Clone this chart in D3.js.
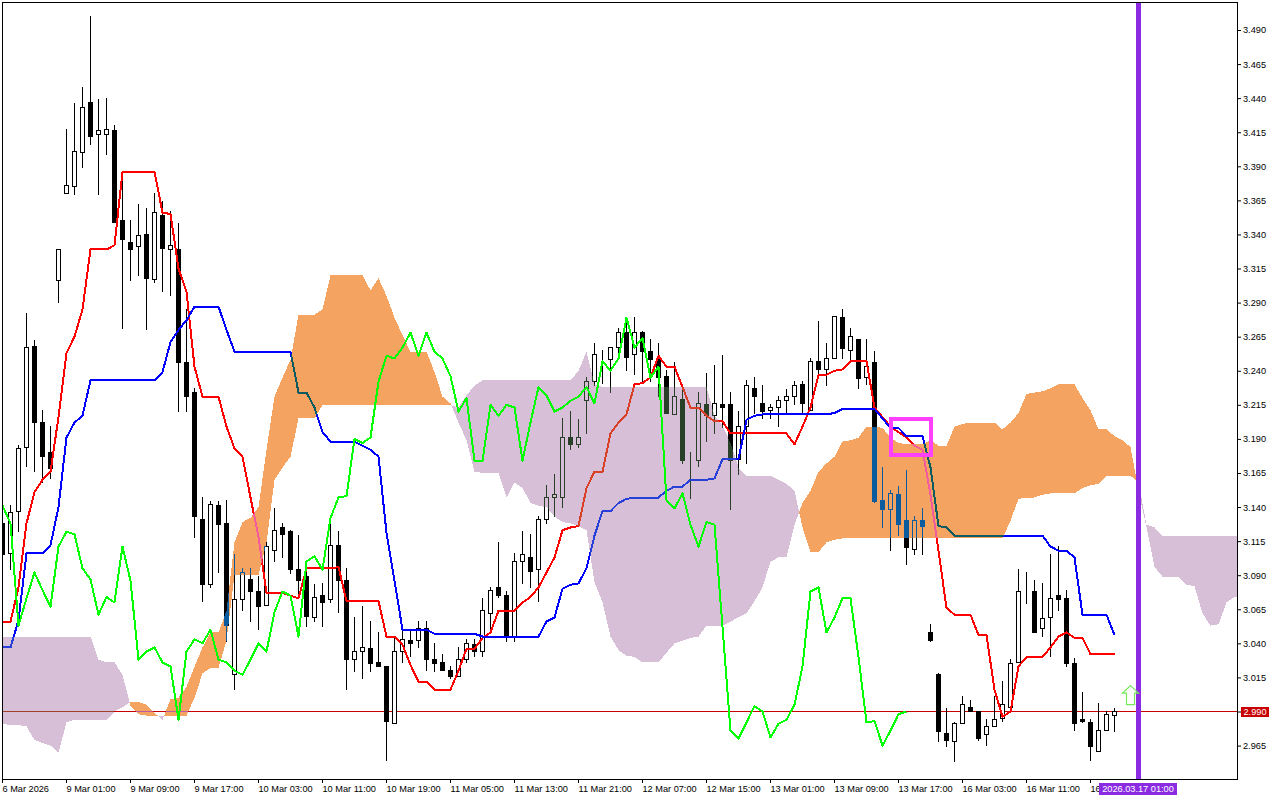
<!DOCTYPE html>
<html><head><meta charset="utf-8">
<script src="https://cdn.jsdelivr.net/npm/d3@7"></script>
<style>html,body{margin:0;padding:0;background:#fff;overflow:hidden}svg{display:block}
text{font-family:"Liberation Sans",Arial,sans-serif;font-size:9.2px;fill:#000}</style>
</head><body><svg id="c" width="1280" height="800"></svg>
<script>
const opens=[3.128,3.106,3.137,3.184,3.258,3.202,3.180,3.306,3.370,3.375,
3.400,3.437,3.413,3.413,3.416,3.350,3.334,3.331,3.340,3.307,
3.354,3.329,3.329,3.246,3.224,3.131,3.083,3.141,3.128,3.017,
3.072,3.087,3.078,3.068,3.108,3.125,3.122,3.094,3.089,3.059,
3.075,3.072,3.112,3.086,3.028,3.034,3.036,3.026,3.023,2.981,
3.034,3.042,3.042,3.051,3.028,3.026,3.020,3.016,3.028,3.039,
3.034,3.062,3.081,3.075,3.045,3.100,3.103,3.094,3.131,3.147,
3.147,3.191,3.186,3.218,3.232,3.249,3.248,3.257,3.268,3.252,
3.268,3.254,3.248,3.236,3.208,3.219,3.174,3.174,3.215,3.207,
3.215,3.215,3.175,3.199,3.227,3.216,3.211,3.213,3.218,3.221,
3.230,3.211,3.247,3.241,3.249,3.279,3.255,3.263,3.235,3.246,
3.145,3.138,3.149,3.130,3.109,3.130,3.048,3.017,2.974,2.968,
2.981,2.993,2.990,2.973,2.979,2.985,2.993,3.026,3.081,3.078,
3.051,3.059,3.075,3.073,3.025,2.984,2.982,2.961,2.976,2.987];
const highs=[3.134,3.141,3.185,3.282,3.262,3.211,3.199,3.329,3.417,3.436,
3.448,3.500,3.439,3.440,3.420,3.379,3.350,3.362,3.359,3.370,
3.364,3.357,3.348,3.285,3.227,3.147,3.144,3.144,3.145,3.105,
3.095,3.095,3.089,3.114,3.139,3.128,3.123,3.119,3.095,3.083,
3.084,3.134,3.122,3.095,3.059,3.067,3.056,3.048,3.023,3.045,
3.050,3.050,3.056,3.056,3.040,3.032,3.023,3.037,3.043,3.043,
3.073,3.081,3.114,3.078,3.106,3.122,3.120,3.133,3.156,3.164,
3.205,3.210,3.204,3.235,3.260,3.255,3.257,3.271,3.279,3.279,
3.269,3.263,3.260,3.240,3.246,3.228,3.180,3.224,3.238,3.244,
3.251,3.224,3.210,3.233,3.235,3.229,3.215,3.221,3.226,3.232,
3.232,3.249,3.276,3.260,3.280,3.285,3.271,3.263,3.263,3.254,
3.169,3.152,3.155,3.167,3.133,3.139,3.054,3.018,2.992,2.982,
3.001,2.998,2.990,2.984,3.001,3.012,3.028,3.094,3.092,3.086,
3.084,3.105,3.111,3.079,3.029,3.004,2.984,2.996,2.990,2.992];
const lows=[3.101,3.094,3.122,3.170,3.166,3.158,3.161,3.290,3.370,3.369,
3.389,3.406,3.369,3.399,3.349,3.271,3.306,3.310,3.270,3.305,
3.298,3.295,3.210,3.210,3.118,3.071,3.081,3.092,3.041,3.006,
3.064,3.056,3.050,3.068,3.100,3.103,3.091,3.073,3.052,3.056,
3.052,3.070,3.063,3.006,3.019,3.014,3.019,3.023,2.954,2.981,
3.026,3.030,3.037,3.020,3.019,3.020,3.014,3.016,3.026,3.030,
3.030,3.048,3.074,3.041,3.041,3.084,3.081,3.071,3.128,3.133,
3.140,3.182,3.184,3.194,3.229,3.231,3.224,3.252,3.240,3.237,
3.232,3.232,3.221,3.209,3.208,3.172,3.146,3.170,3.188,3.194,
3.198,3.138,3.164,3.172,3.209,3.205,3.205,3.199,3.209,3.215,
3.209,3.211,3.236,3.229,3.249,3.249,3.246,3.227,3.230,3.143,
3.125,3.108,3.119,3.098,3.105,3.105,3.041,2.968,2.964,2.953,
2.981,2.990,2.969,2.965,2.979,2.983,2.992,3.026,3.069,3.048,
3.045,3.030,3.064,3.023,2.976,2.982,2.954,2.961,2.976,2.975];
const closes=[3.105,3.136,3.183,3.257,3.202,3.177,3.168,3.329,3.376,3.401,
3.433,3.412,3.416,3.417,3.349,3.336,3.329,3.339,3.308,3.356,
3.330,3.332,3.246,3.221,3.133,3.083,3.142,3.127,3.053,3.072,
3.092,3.078,3.067,3.111,3.123,3.120,3.094,3.086,3.060,3.074,
3.070,3.112,3.086,3.028,3.034,3.037,3.025,3.023,2.983,3.034,
3.043,3.040,3.051,3.028,3.025,3.020,3.016,3.028,3.040,3.034,
3.064,3.079,3.075,3.045,3.100,3.105,3.093,3.131,3.147,3.149,
3.191,3.186,3.191,3.232,3.252,3.249,3.257,3.268,3.250,3.268,
3.254,3.248,3.235,3.209,3.221,3.174,3.174,3.216,3.207,3.216,
3.213,3.174,3.199,3.229,3.221,3.210,3.213,3.218,3.221,3.229,
3.216,3.247,3.241,3.249,3.280,3.256,3.265,3.234,3.243,3.144,
3.138,3.150,3.127,3.110,3.130,3.126,3.042,2.975,2.969,2.981,
2.995,2.990,2.970,2.979,2.984,2.995,3.025,3.078,3.081,3.048,
3.058,3.073,3.072,3.025,2.981,2.983,2.964,2.976,2.988,2.990];
const tenkan=[3.056,3.056,3.081,3.128,3.151,3.160,3.166,3.206,3.253,3.265,
3.285,3.329,3.329,3.329,3.332,3.386,3.386,3.386,3.386,3.386,
3.356,3.355,3.315,3.298,3.243,3.221,3.221,3.221,3.199,3.183,
3.177,3.147,3.118,3.077,3.077,3.077,3.075,3.073,3.095,3.095,
3.095,3.095,3.096,3.071,3.071,3.071,3.071,3.071,3.045,3.045,
3.039,3.024,3.012,3.012,3.006,3.006,3.006,3.020,3.036,3.036,
3.044,3.048,3.064,3.064,3.064,3.070,3.074,3.081,3.092,3.103,
3.123,3.125,3.126,3.154,3.166,3.166,3.194,3.202,3.208,3.230,
3.231,3.235,3.251,3.243,3.243,3.228,3.213,3.213,3.207,3.203,
3.203,3.194,3.194,3.194,3.194,3.194,3.194,3.194,3.194,3.186,
3.199,3.213,3.237,3.237,3.240,3.241,3.247,3.247,3.247,3.213,
3.206,3.199,3.195,3.191,3.185,3.182,3.149,3.108,3.066,3.061,
3.061,3.061,3.046,3.046,3.006,2.986,2.990,3.023,3.030,3.030,
3.030,3.037,3.045,3.048,3.044,3.044,3.032,3.032,3.032,3.032];
const kijun=[3.037,3.037,3.057,3.106,3.106,3.106,3.112,3.140,3.191,3.202,
3.207,3.233,3.233,3.233,3.233,3.233,3.233,3.233,3.233,3.233,
3.239,3.261,3.270,3.277,3.287,3.287,3.287,3.287,3.270,3.254,
3.254,3.254,3.254,3.254,3.254,3.254,3.254,3.224,3.224,3.213,
3.195,3.188,3.188,3.188,3.188,3.185,3.182,3.177,3.121,3.086,
3.050,3.050,3.050,3.050,3.047,3.047,3.047,3.047,3.047,3.047,
3.045,3.045,3.045,3.045,3.045,3.045,3.045,3.045,3.056,3.059,
3.080,3.083,3.084,3.095,3.119,3.137,3.137,3.143,3.146,3.147,
3.147,3.147,3.147,3.152,3.155,3.155,3.160,3.160,3.160,3.161,
3.175,3.175,3.175,3.204,3.207,3.208,3.208,3.208,3.208,3.208,
3.208,3.208,3.208,3.208,3.209,3.212,3.212,3.212,3.212,3.212,
3.205,3.198,3.198,3.192,3.192,3.192,3.169,3.126,3.125,3.119,
3.119,3.119,3.119,3.119,3.119,3.119,3.119,3.119,3.119,3.119,
3.119,3.111,3.108,3.108,3.103,3.061,3.061,3.061,3.061,3.046];
const chikou=[3.141,3.128,3.053,3.073,3.092,3.079,3.067,3.111,3.122,3.120,
3.095,3.087,3.061,3.074,3.070,3.111,3.086,3.028,3.034,3.037,
3.026,3.023,2.984,3.034,3.043,3.040,3.050,3.028,3.026,3.020,
3.017,3.028,3.040,3.034,3.063,3.078,3.075,3.045,3.100,3.104,
3.094,3.132,3.147,3.148,3.190,3.187,3.191,3.232,3.251,3.249,
3.257,3.268,3.251,3.268,3.254,3.249,3.236,3.210,3.220,3.174,
3.174,3.215,3.207,3.215,3.213,3.174,3.202,3.228,3.222,3.210,
3.213,3.218,3.221,3.228,3.216,3.247,3.240,3.249,3.279,3.257,
3.264,3.235,3.243,3.145,3.139,3.150,3.127,3.111,3.129,3.127,
3.052,2.976,2.970,2.982,2.994,2.990,2.971,2.981,2.984,2.995,
3.023,3.078,3.081,3.048,3.059,3.073,3.073,3.030,2.982,2.983,
2.965,2.976,2.988,2.990];
const senkouA=[2.981,2.980,2.980,2.979,2.969,2.967,2.965,2.960,2.982,2.984,
2.984,2.984,2.984,2.984,2.990,2.993,2.997,2.997,2.995,2.989,
2.984,2.999,3.000,3.008,3.023,3.037,3.048,3.048,3.064,3.114,
3.129,3.132,3.140,3.182,3.221,3.235,3.248,3.281,3.281,3.281,
3.285,3.310,3.310,3.310,3.310,3.310,3.299,3.308,3.295,3.279,
3.266,3.254,3.254,3.254,3.239,3.221,3.216,3.202,3.189,3.166,
3.165,3.165,3.165,3.147,3.158,3.154,3.143,3.141,3.140,3.133,
3.129,3.128,3.126,3.123,3.085,3.070,3.045,3.035,3.031,3.030,
3.026,3.026,3.026,3.033,3.040,3.042,3.044,3.045,3.053,3.053,
3.053,3.056,3.059,3.062,3.071,3.081,3.100,3.103,3.103,3.127,
3.143,3.152,3.166,3.172,3.177,3.188,3.189,3.191,3.199,3.199,
3.198,3.191,3.187,3.186,3.186,3.186,3.189,3.185,3.185,3.199,
3.201,3.202,3.202,3.202,3.202,3.197,3.202,3.209,3.223,3.224,
3.225,3.227,3.230,3.230,3.230,3.220,3.211,3.197,3.197,3.192,
3.189,3.184,3.152,3.125,3.096,3.089,3.089,3.089,3.083,3.082,
3.062,3.053,3.054,3.070,3.074,3.074];
const senkouB=[3.045,3.045,3.045,3.045,3.045,3.045,3.045,3.045,3.045,3.045,
3.045,3.045,3.028,3.026,3.026,3.017,2.994,2.988,2.987,2.987,
2.987,2.987,2.987,2.987,3.000,3.018,3.022,3.022,3.042,3.090,
3.090,3.090,3.090,3.114,3.160,3.169,3.177,3.205,3.205,3.205,
3.215,3.215,3.215,3.215,3.215,3.215,3.215,3.215,3.215,3.215,
3.215,3.215,3.215,3.215,3.215,3.215,3.215,3.213,3.222,3.229,
3.233,3.233,3.233,3.233,3.233,3.233,3.233,3.233,3.233,3.233,
3.233,3.233,3.240,3.254,3.230,3.228,3.228,3.228,3.228,3.228,
3.228,3.228,3.228,3.228,3.228,3.228,3.228,3.228,3.228,3.207,
3.200,3.187,3.169,3.163,3.163,3.163,3.163,3.160,3.157,3.152,
3.125,3.107,3.107,3.114,3.116,3.117,3.117,3.117,3.117,3.117,
3.117,3.117,3.117,3.117,3.117,3.117,3.117,3.117,3.117,3.117,
3.117,3.117,3.117,3.117,3.117,3.117,3.130,3.146,3.147,3.147,
3.149,3.150,3.150,3.150,3.150,3.154,3.156,3.157,3.163,3.163,
3.163,3.163,3.158,3.127,3.125,3.119,3.119,3.119,3.119,3.119,
3.119,3.119,3.119,3.119,3.119,3.119];
const priceTicks=[3.490,3.465,3.440,3.415,3.390,3.365,3.340,3.315,3.290,3.265,3.240,3.215,3.190,3.165,3.140,3.115,3.090,3.065,3.040,3.015,2.990,2.965];
const timeBars=[0,8,16,24,32,40,48,56,64,72,80,88,96,104,112,120,128,136];
const timeLabels=["6 Mar 2026","9 Mar 01:00","9 Mar 09:00","9 Mar 17:00","10 Mar 03:00","10 Mar 11:00","10 Mar 19:00","11 Mar 05:00","11 Mar 13:00","11 Mar 21:00","12 Mar 07:00","12 Mar 15:00","13 Mar 01:00","13 Mar 09:00","13 Mar 17:00","16 Mar 03:00","16 Mar 11:00","16"];
const lastPrice=2.990, markerBar=142, markerLabel="2026.03.17 01:00";
const boxBars=[111,116], boxPrices=[3.2045,3.178];
const arrowBar=141, arrowPrices=[3.009,2.995];

const svg=d3.select("#c");
const x=d3.scaleLinear().domain([0,139]).range([2.5,1114.5]);
const y=d3.scaleLinear().domain([3.49,2.965]).range([30,745.575]);
const py=p=>Math.floor(y(p))+.5;
const L=2.5,T=2.5,R=1237.5,B=779.5;
svg.append("rect").attr("width",1280).attr("height",800).attr("fill","#fff");
svg.append("defs").append("clipPath").attr("id","pl").append("rect").attr("x",3).attr("y",3).attr("width",R-L-.5).attr("height",B-T-.5);
const g=svg.append("g").attr("clip-path","url(#pl)");
// white backdrop inside the clipped group so the clouds' difference blend has something to act on
g.append("rect").attr("x",0).attr("y",0).attr("width",1280).attr("height",800).attr("fill","#fff");

g.append("line").attr("x1",L).attr("x2",R).attr("y1",py(lastPrice)).attr("y2",py(lastPrice))
 .attr("stroke","#c80000").attr("shape-rendering","crispEdges");

const cg=g.append("g").attr("shape-rendering","crispEdges");
opens.forEach((o,i)=>{
  const c=closes[i],X=x(i);
  cg.append("line").attr("x1",X).attr("x2",X).attr("y1",Math.floor(y(highs[i]))).attr("y2",Math.ceil(y(lows[i]))).attr("stroke","#000");
  const t=py(Math.max(o,c)),b=py(Math.min(o,c));
  if(c>=o) cg.append("rect").attr("x",X-2).attr("width",4).attr("y",t).attr("height",b-t).attr("fill","#fff").attr("stroke","#000");
  else cg.append("rect").attr("x",X-2.5).attr("width",5).attr("y",t-.5).attr("height",b-t+1).attr("fill","#000");
});
const line=d3.line().x((d,i)=>x(i)).y(d=>y(d));
const drawLine=(s,col)=>g.append("path").attr("d",line(s)).attr("fill","none").attr("stroke",col).attr("stroke-width",2).attr("stroke-linejoin","round").attr("shape-rendering","crispEdges");
drawLine(tenkan,"#ff0000");
drawLine(kijun,"#0000ff");

// clouds: runs between senkou A and B, split at the crossings; fill is the inverse of the seen colour
const runs=[];let cur=null;
senkouA.forEach((a,i)=>{
  const b=senkouB[i],up=a>=b;
  if(cur&&cur.up!==up){
    const pa=senkouA[i-1],pb=senkouB[i-1],t=(pa-pb)/((pa-pb)-(a-b));
    const cx=i-1+t,cy=pa+(a-pa)*t;
    cur.pts.push({i:cx,a:cy,b:cy});runs.push(cur);
    cur={up,pts:[{i:cx,a:cy,b:cy}]};
  }
  if(!cur)cur={up,pts:[]};
  cur.pts.push({i,a,b});
});
runs.push(cur);
const area=d3.area().x(d=>x(d.i)).y0(d=>y(d.a)).y1(d=>y(d.b));
runs.forEach(r=>g.append("path").attr("d",area(r.pts)).attr("fill",r.up?"#0b5b9f":"#274027")
  .style("mix-blend-mode","difference").attr("shape-rendering","crispEdges"));
drawLine(chikou,"#00ff00");

g.append("line").attr("x1",x(markerBar)).attr("x2",x(markerBar)).attr("y1",T).attr("y2",B).attr("stroke","#8a2be2").attr("stroke-width",5).attr("shape-rendering","crispEdges");
g.append("rect").attr("x",x(boxBars[0])).attr("width",x(boxBars[1])-x(boxBars[0])).attr("y",y(boxPrices[0])).attr("height",y(boxPrices[1])-y(boxPrices[0]))
 .attr("fill","none").attr("stroke","#ff40ff").attr("stroke-width",4).attr("shape-rendering","crispEdges");
const ax=x(arrowBar),at=y(arrowPrices[0]),ab=y(arrowPrices[1]);
g.append("path").attr("d",`M${ax},${at}L${ax+8},${at+7.5}L${ax+4},${at+7.5}L${ax+4},${ab}L${ax-4},${ab}L${ax-4},${at+7.5}L${ax-8},${at+7.5}Z`)
 .attr("fill","none").attr("stroke","#74e85a").attr("stroke-width",1.2);

svg.append("rect").attr("x",L).attr("y",T).attr("width",R-L).attr("height",B-T).attr("fill","none").attr("stroke","#000").attr("shape-rendering","crispEdges");

const ya=svg.append("g").attr("transform",`translate(${R-.5},0)`)
 .call(d3.axisRight(y).tickValues(priceTicks).tickFormat(d3.format(".3f")).tickSize(4).tickPadding(2));
ya.select(".domain").remove();
ya.selectAll("text").style("font-family",'"Liberation Sans"').style("font-size","9.2px");
const xa=svg.append("g").attr("transform",`translate(0,${B-.5})`)
 .call(d3.axisBottom(x).offset(0).tickValues(timeBars).tickFormat((d,i)=>timeLabels[i]).tickSize(4));
xa.select(".domain").remove();
xa.selectAll("text").attr("text-anchor","start").attr("y",13).attr("dy",0).style("font-family",'"Liberation Sans"').style("font-size","9.2px");

svg.append("rect").attr("x",1241).attr("y",y(lastPrice)-4.5).attr("width",28).attr("height",10).attr("fill","#c80000");
svg.append("text").attr("x",1255).attr("y",y(lastPrice)+3.5).attr("text-anchor","middle").style("fill","#fff").text(d3.format(".3f")(lastPrice));
svg.append("rect").attr("x",x(markerBar)-39.5).attr("y",783).attr("width",78).attr("height",12).attr("fill","#8a2be2");
svg.append("text").attr("x",x(markerBar)-.5).attr("y",792).attr("text-anchor","middle").style("fill","#fff").text(markerLabel);
</script></body></html>
